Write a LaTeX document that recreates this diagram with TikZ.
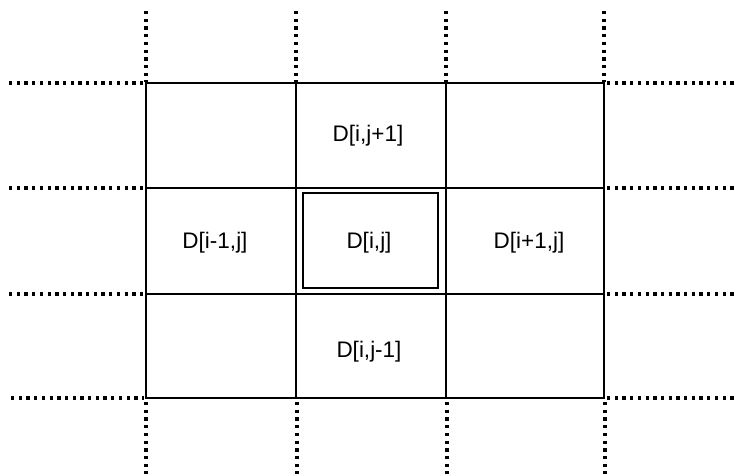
\documentclass[tikz,border=0pt]{standalone}
\usepackage{fontspec}
\setmainfont{Liberation Sans}
\begin{document}
\begin{tikzpicture}[x=1pt,y=-1pt,
  gridline/.style={line width=1.7pt},
  dotline/.style={line width=3.4pt,dash pattern=on 3.3pt off 4.4pt},
  lbl/.style={font=\fontsize{22.5}{26}\selectfont,inner sep=0pt}]
\useasboundingbox (0,0) rectangle (736,474);
% solid grid
\draw[gridline] (146,83) rectangle (604,398);
\foreach \x in {296,446} \draw[gridline] (\x,83) -- (\x,398);
\foreach \y in {188,294} \draw[gridline] (146,\y) -- (604,\y);
% inner box
\draw[gridline] (303,193) rectangle (438,288);
% dotted extensions
\foreach \x/\xb in {146/146,296/297,446/447,604/605} {
  \draw[dotline] (\x,11) -- (\x,82);
  \draw[dotline] (\xb,402) -- (\xb,474);
}
\foreach \y/\s in {83/9,188/9,294/9,398/11} {
  \draw[dotline] (\s,\y) -- (144,\y);
  \draw[dotline] (607,\y) -- (736,\y);
}
% labels
\node[lbl] (top) at (368,136) {D[i,j+1]};
\node[lbl] (left) at (215,243) {D[i-1,j]};
\node[lbl] (mid) at (369,243) {D[i,j]};
\node[lbl] (right) at (529,243) {D[i+1,j]};
\node[lbl] (bot) at (369,352) {D[i,j-1]};
\end{tikzpicture}
\end{document}
